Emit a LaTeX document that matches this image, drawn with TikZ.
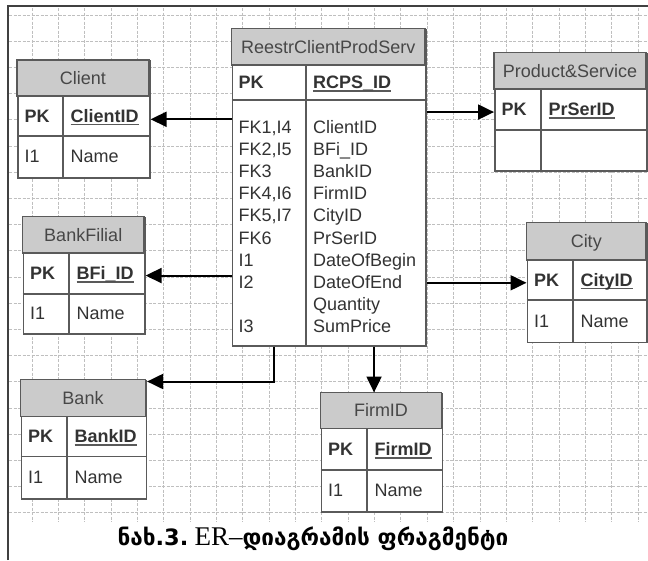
\documentclass[tikz,border=0pt]{standalone}
\usepackage{fontspec}
\setmainfont{Liberation Sans}
\newfontfamily\serifcap{Liberation Serif}
\newfontfamily\geocap{DejaVu Sans}
\usetikzlibrary{arrows.meta}

\definecolor{hdrgray}{HTML}{CBCBCB}
\definecolor{linegray}{HTML}{5A5A5A}
\definecolor{txtgray}{HTML}{333333}

\newcommand\pkfield[1]{\setbox0\hbox{\bfseries #1}\rlap{\color{black!65}\rule[-3pt]{\wd0}{1.6pt}}\box0}

\tikzset{
  tbl/.style={draw=linegray, line width=1.6pt, fill=white, inner sep=0pt, anchor=north west},
  hdr/.style={draw=linegray, line width=1.6pt, fill=hdrgray},
  sep/.style={draw=linegray, line width=1.6pt},
  ttl/.style={inner sep=0pt, text height=12.9pt, text depth=0pt, font=\fontsize{18}{22}\selectfont, text=black!72},
  key/.style={anchor=west, inner sep=0pt, text height=12.9pt, text depth=0pt, font=\fontsize{18}{22}\selectfont\bfseries, text=txtgray},
  fld/.style={anchor=west, inner sep=0pt, text height=12.9pt, text depth=0pt, font=\fontsize{18}{22}\selectfont, text=txtgray},
  fk/.style={line width=2pt, -{Triangle[length=16pt,width=15pt]}},
  gridline/.style={gray!50, line width=0.9pt, dash pattern=on 3pt off 1.5pt}
}

\begin{document}
\begin{tikzpicture}[x=1pt, y=-1pt]

  \useasboundingbox (0,0) rectangle (648,560);

  % background grid and frame
  \foreach \gx in {0,...,23}
    \draw[gridline] ({32+26.35*\gx},8) -- ({32+26.35*\gx},522);
  \foreach \gy in {0,...,19}
    \draw[gridline] (9,{15+26.2*\gy}) -- (648,{15+26.2*\gy});
  \draw[line width=2pt, black!75] (8,560) -- (8,6) -- (648,6);

  % Client
  \node[tbl, minimum width=132, minimum height=117] (client) at (17,60) {};
  \draw[hdr] (17,60) rectangle (149,96);
  \draw[sep] (17,136) -- (149,136) (63,96) -- (63,177);
  \node[ttl] (client-t) at (83,78) {Client};
  \node[key] (client-k1) at (24.5,116) {PK};
  \node[fld] (client-f1) at (70.5,116) {\pkfield{ClientID}};
  \node[fld] (client-k2) at (24.5,156.5) {I1};
  \node[fld] (client-f2) at (70.5,156.5) {Name};

  % ReestrClientProdServ
  \node[tbl, minimum width=193.5, minimum height=316.5] (reestr) at (231.5,28.5) {};
  \draw[hdr] (231.5,28.5) rectangle (425,65);
  \draw[sep] (231.5,100) -- (425,100) (306,65) -- (306,345);
  \node[ttl] (reestr-t) at (328.25,46.75) {ReestrClientProdServ};
  \node[key] (reestr-k0) at (238.5,82.5) {PK};
  \node[fld] (reestr-f0) at (313,82.5) {\pkfield{RCPS\_ID}};
  \foreach \k/\f [count=\i] in {{FK1,I4}/ClientID, {FK2,I5}/BFi\_ID, FK3/BankID,
      {FK4,I6}/FirmID, {FK5,I7}/CityID, FK6/PrSerID, I1/DateOfBegin,
      I2/DateOfEnd, {}/Quantity, I3/SumPrice} {
    \node[fld] (reestr-k\i) at (238.5,{126.7+22.2*(\i-1)}) {\k};
    \node[fld] (reestr-f\i) at (313,{126.7+22.2*(\i-1)}) {\f};
  }

  % Product&Service
  \node[tbl, minimum width=152, minimum height=117.5] (product) at (494,52.5) {};
  \draw[hdr] (494,52.5) rectangle (646,89);
  \draw[sep] (494,130) -- (646,130) (541,89) -- (541,170);
  \node[ttl] (product-t) at (570,70.75) {Product\&Service};
  \node[key] (product-k1) at (501.5,109.5) {PK};
  \node[fld] (product-f1) at (548.5,109.5) {\pkfield{PrSerID}};

  % BankFilial
  \node[tbl, minimum width=121.5, minimum height=116.5] (bfilial) at (22.5,216.5) {};
  \draw[hdr] (22.5,216.5) rectangle (144,253);
  \draw[sep] (22.5,294) -- (144,294) (69,253) -- (69,333);
  \node[ttl] (bfilial-t) at (83.25,234.75) {BankFilial};
  \node[key] (bfilial-k1) at (30,273.5) {PK};
  \node[fld] (bfilial-f1) at (76.5,273.5) {\pkfield{BFi\_ID}};
  \node[fld] (bfilial-k2) at (30,313.5) {I1};
  \node[fld] (bfilial-f2) at (76.5,313.5) {Name};

  % City
  \node[tbl, minimum width=119.5, minimum height=119] (city) at (526.5,222.5) {};
  \draw[hdr] (526.5,222.5) rectangle (646,260);
  \draw[sep] (526.5,300) -- (646,300) (573,260) -- (573,341.5);
  \node[ttl] (city-t) at (586.25,241.25) {City};
  \node[key] (city-k1) at (534,280) {PK};
  \node[fld] (city-f1) at (580.5,280) {\pkfield{CityID}};
  \node[fld] (city-k2) at (534,320.75) {I1};
  \node[fld] (city-f2) at (580.5,320.75) {Name};

  % Bank
  \node[tbl, minimum width=125, minimum height=118.5] (bank) at (20.5,379.5) {};
  \draw[hdr] (20.5,379.5) rectangle (145.5,416.5);
  \draw[sep] (20.5,456.5) -- (145.5,456.5) (67,416.5) -- (67,498);
  \node[ttl] (bank-t) at (83,398) {Bank};
  \node[key] (bank-k1) at (28,436.5) {PK};
  \node[fld] (bank-f1) at (74.5,436.5) {\pkfield{BankID}};
  \node[fld] (bank-k2) at (28,477.25) {I1};
  \node[fld] (bank-f2) at (74.5,477.25) {Name};

  % FirmID
  \node[tbl, minimum width=121, minimum height=118.5] (firm) at (320.5,392.5) {};
  \draw[hdr] (320.5,392.5) rectangle (441.5,428.5);
  \draw[sep] (320.5,470) -- (441.5,470) (367,428.5) -- (367,511);
  \node[ttl] (firm-t) at (381,410.5) {FirmID};
  \node[key] (firm-k1) at (328,449.25) {PK};
  \node[fld] (firm-f1) at (374.5,449.25) {\pkfield{FirmID}};
  \node[fld] (firm-k2) at (328,490.5) {I1};
  \node[fld] (firm-f2) at (374.5,490.5) {Name};

  % references
  \draw[fk] (reestr.west |- client.east) -- (client.east);
  \draw[fk] (reestr.east |- product.west) -- (product.west);
  \draw[fk] (reestr.west |- bfilial.east) -- (bfilial.east);
  \draw[fk] (reestr.east |- city.west) -- (city.west);
  \draw[fk] ([xshift=-55pt]reestr.south) |- ([yshift=-2pt]bank.north east);
  \draw[fk] ([xshift=45pt]reestr.south) -- ([xshift=45pt]reestr.south |- firm.north);

  % caption
  \node[font=\fontsize{22.5}{26}\selectfont] (caption) at (313,539)
    {{\geocap\bfseries ნახ.3.}\ {\serifcap\fontsize{27}{28}\selectfont ER–}{\geocap\bfseries დიაგრამის ფრაგმენტი}};

\end{tikzpicture}
\end{document}
